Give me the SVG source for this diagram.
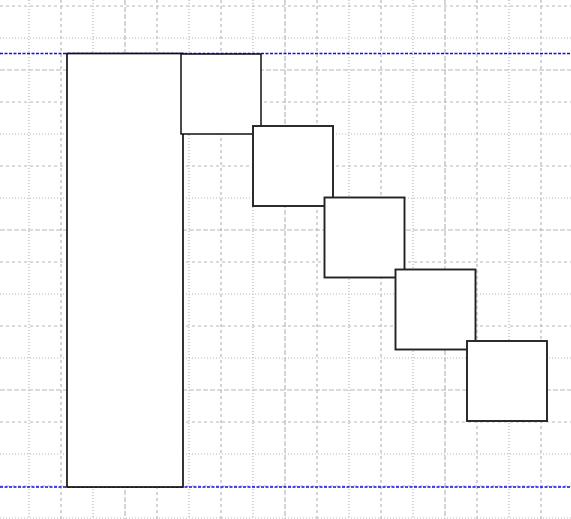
<svg xmlns="http://www.w3.org/2000/svg" width="571" height="519" viewBox="0 0 571 519">
<style>
.g{stroke:#b8b8b8;stroke-width:1.2;fill:none}
.dot{stroke-dasharray:1,2}
.dash{stroke-dasharray:3,3}
.long{stroke-dasharray:5,2}
.guide{stroke:#0c0cf0;stroke-width:1.7;stroke-dasharray:3,1.5;fill:none}
.bar{fill:#fff;stroke:#111;stroke-width:1.7}
.sq1{fill:#fff;stroke:#111;stroke-width:1.5}
.sq{fill:#fff;stroke:#222;stroke-width:1.9}
</style>
<rect width="571" height="519" fill="#fff"/>
<g id="grid">
<path class="g dash" d="M0 6H571M0 102H571M0 166H571M0 262H571M0 326H571M0 422H571M0 486H571"/>
<path class="g dot" d="M0 38H571M0 134H571M0 198H571M0 294H571M0 358H571M0 454H571M0 518H571"/>
<path class="g long" d="M0 70H571M0 230H571M0 390H571"/>
<path class="g dot" d="M29 0V519M93 0V519M189 0V519M253 0V519M349 0V519M413 0V519M509 0V519"/>
<path class="g dash" d="M61 0V519M157 0V519M221 0V519M317 0V519M381 0V519M477 0V519M541 0V519"/>
<path class="g long" d="M125 0V519M285 0V519M445 0V519"/>
</g>
<g id="guides">
<line class="guide" x1="0" y1="53.5" x2="571" y2="53.5"/>
<line class="guide" x1="0" y1="487" x2="571" y2="487"/>
</g>
<g id="bar"><rect class="bar" x="67" y="53.5" width="116" height="433.5"/></g>
<g id="box1"><rect class="sq1" x="181" y="54" width="80" height="80"/></g>
<g id="box2"><rect class="sq" x="253" y="126" width="80" height="80"/></g>
<g id="box3"><rect class="sq" x="324.5" y="197.5" width="80" height="80"/></g>
<g id="box4"><rect class="sq" x="395.5" y="269.5" width="80" height="80"/></g>
<g id="box5"><rect class="sq" x="467" y="341" width="80" height="80"/></g>
</svg>
